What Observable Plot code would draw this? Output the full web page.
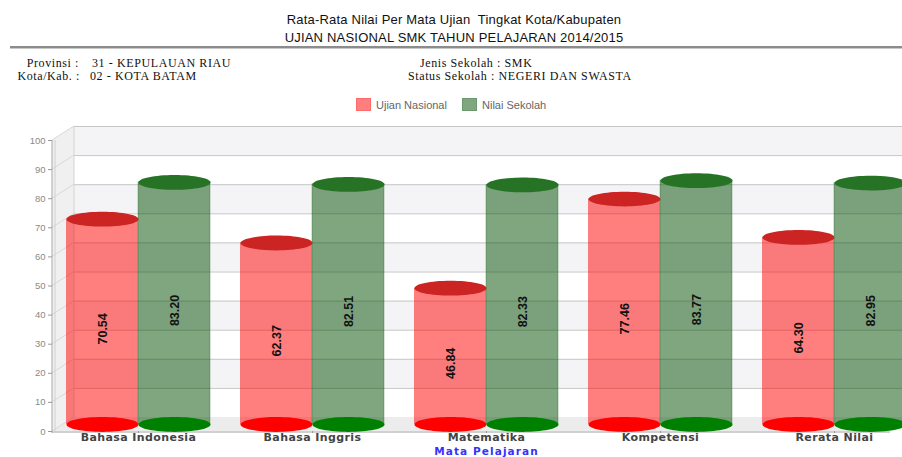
<!DOCTYPE html>
<html><head><meta charset="utf-8">
<script src="https://cdn.jsdelivr.net/npm/d3@7"></script>
<script src="https://cdn.jsdelivr.net/npm/@observablehq/plot@0.6"></script>
<style>
html,body{margin:0;padding:0;background:#fff;width:902px;height:457px;overflow:hidden;}
#wrap{position:relative;width:902px;height:457px;}
#header{position:absolute;left:0;top:0;width:902px;height:118px;}
.t{position:absolute;white-space:nowrap;line-height:1;}
.ttl{left:0;width:908px;text-align:center;font:13px 'Liberation Sans',Arial,sans-serif;color:#111;letter-spacing:0.2px;}
.inf{font:12px 'Liberation Serif','Times New Roman',serif;color:#111;letter-spacing:0.6px;}
.lg{font:11px 'Liberation Sans',Arial,sans-serif;color:#666;}
.sw{position:absolute;width:15px;height:13px;}
#chart{position:absolute;left:0;top:118px;}
#chart g[aria-label="x-axis tick label"] text{letter-spacing:0.4px;}
#chart .axtitle text{letter-spacing:1.1px;}
</style></head><body>
<div id="wrap">
 <div id="header">
  <div class="t ttl" style="top:12px">Rata-Rata Nilai Per Mata Ujian&nbsp; Tingkat Kota/Kabupaten</div>
  <div class="t ttl" style="top:30px">UJIAN NASIONAL SMK TAHUN PELAJARAN 2014/2015</div>
  <div style="position:absolute;left:10px;top:46px;width:892px;height:2px;background:#8c8c8c;"></div>
  <div style="position:absolute;left:10px;top:48px;width:892px;height:1px;background:#c8c8c8;"></div>
  <div class="t inf" style="left:0;width:79px;text-align:right;top:56px">Provinsi :</div>
  <div class="t inf" style="left:92px;top:56px">31 - KEPULAUAN RIAU</div>
  <div class="t inf" style="left:0;width:80px;text-align:right;top:69px">Kota/Kab. :</div>
  <div class="t inf" style="left:90px;top:69px">02 - KOTA BATAM</div>
  <div class="t inf" style="left:420px;top:56px">Jenis Sekolah : SMK</div>
  <div class="t inf" style="left:408px;top:69px">Status Sekolah : NEGERI DAN SWASTA</div>
  <div class="sw" style="left:356px;top:98px;background:#ff7f7f;border:1px solid #ff6a6a;box-sizing:border-box;"></div>
  <div class="t lg" style="left:376px;top:99px">Ujian Nasional</div>
  <div class="sw" style="left:462px;top:98px;background:#7fa67f;border:1px solid #6c996c;box-sizing:border-box;"></div>
  <div class="t lg" style="left:482px;top:99px">Nilai Sekolah</div>
 </div>
 <div id="chart"></div>
</div>
<script>
// ---- data ----
const categories = ["Bahasa Indonesia", "Bahasa Inggris", "Matematika", "Kompetensi", "Rerata Nilai"];
const seriesNames = ["Ujian Nasional", "Nilai Sekolah"];
const ujianNasional = [70.54, 62.37, 46.84, 77.46, 64.30];
const nilaiSekolah = [83.20, 82.51, 82.33, 83.77, 82.95];
const yTicks = [0, 10, 20, 30, 40, 50, 60, 70, 80, 90, 100];
const axisTitle = "Mata Pelajaran";

const un = categories.map((c, i) => ({cat: c, series: seriesNames[0], v: ujianNasional[i]}));
const ns = categories.map((c, i) => ({cat: c, series: seriesNames[1], v: nilaiSekolah[i]}));
const bands = yTicks.slice(0, -1).map((t, i) => ({y1: t, y2: yTicks[i + 1], i})).filter(d => d.i % 2 === 1);

// depth offsets (pixels) for 3D look
const DX = 22, DY = -14;

// custom ellipse symbol for cylinder caps
const ellipse = {
  draw(ctx, size) {
    const rx = Math.sqrt(size / Math.PI), ry = rx * 0.205, k = 0.5523;
    ctx.moveTo(rx, 0);
    ctx.bezierCurveTo(rx, ry * k, rx * k, ry, 0, ry);
    ctx.bezierCurveTo(-rx * k, ry, -rx, ry * k, -rx, 0);
    ctx.bezierCurveTo(-rx, -ry * k, -rx * k, -ry, 0, -ry);
    ctx.bezierCurveTo(rx * k, -ry, rx, -ry * k, rx, 0);
    ctx.closePath();
  }
};

function walls(index, scales, values, dims, context) {
  const y = scales.y;
  const svgNS = "http://www.w3.org/2000/svg";
  const g = d3.select(context.document.createElementNS(svgNS, "g"));
  const x0 = dims.marginLeft, x1 = dims.width - dims.marginRight;
  const yT = y(100), yB = y(0);
  // floor
  g.append("path").attr("d", `M${x0},${yB}L${x1 - 12},${yB}L${x1 + 10},${yB + DY}L${x0 + DX},${yB + DY}Z`).attr("fill", "#ececec");
  // left wall
  g.append("path").attr("d", `M${x0},${yT}L${x0 + DX},${yT + DY}L${x0 + DX},${yB + DY}L${x0},${yB}Z`).attr("fill", "#f0f0f0");
  for (const t of yTicks) {
    g.append("line").attr("x1", x0).attr("y1", y(t)).attr("x2", x0 + DX).attr("y2", y(t) + DY)
      .attr("stroke", "#d8d8d8");
  }
  g.append("line").attr("x1", x0 + DX).attr("y1", yT + DY).attr("x2", x0 + DX).attr("y2", yB + DY).attr("stroke", "#d4d4d4");
  // front edges
  g.append("line").attr("x1", x0).attr("y1", yB + 1).attr("x2", x1 - 12).attr("y2", yB + 1).attr("stroke", "#d0d0d0").attr("stroke-width", 2);
  g.append("line").attr("x1", x0 + 3).attr("y1", yT).attr("x2", x0 + 3).attr("y2", yB).attr("stroke", "#d0d0d0");
  g.append("line").attr("x1", x0).attr("y1", yT).attr("x2", x0).attr("y2", yB + 2).attr("stroke", "#a8a8a8");
  return g.node();
}

const labelFont = "'Liberation Sans', Arial, sans-serif";

const plot = Plot.plot({
  width: 902,
  height: 339,
  marginLeft: 52,
  marginRight: 0,
  marginTop: 22,
  marginBottom: 26,
  style: {fontFamily: "'Liberation Sans', Arial, sans-serif", background: "transparent", overflow: "visible"},
  x: {type: "band", domain: categories, range: [49.75, 922.25], paddingInner: 0.175, paddingOuter: 0.0875},
  y: {domain: [0, 100]},
  marks: [
    // back wall bands
    Plot.rect(bands, {y1: "y1", y2: "y2", dx: DX, dy: DY, fill: "#f4f4f7"}),
    // back wall grid
    Plot.ruleY(yTicks, {dx: DX, dy: DY, stroke: "#c6c6c6", strokeWidth: 1}),
    walls,
    // y axis
    Plot.axisY(yTicks, {tickSize: 4, tickPadding: 3, color: "#8a8a8a", stroke: "#999", fontSize: 9.5, label: null}),
    // cylinder bodies
    Plot.barY(un, {x: "cat", y: "v", dy: -7, insetRight: 72, fill: "#ff0000", fillOpacity: 0.5}),
    Plot.barY(ns, {x: "cat", y: "v", dy: -7, insetLeft: 72, fill: "#004d00", fillOpacity: 0.5, stroke: "#1f6b1f", strokeOpacity: 0.35}),
    // bottom caps
    Plot.dot(un, {x: "cat", y: () => 0, dx: -36, dy: -7, r: 36, symbol: ellipse, fill: "#ff0000", stroke: "none"}),
    Plot.dot(ns, {x: "cat", y: () => 0, dx: 36, dy: -7, r: 36, symbol: ellipse, fill: "#008000", stroke: "none"}),
    // top caps
    Plot.dot(un, {x: "cat", y: "v", dx: -36, dy: -7, r: 36, symbol: ellipse, fill: "#cc2323", stroke: "none"}),
    Plot.dot(ns, {x: "cat", y: "v", dx: 36, dy: -7, r: 36, symbol: ellipse, fill: "#267326", stroke: "none"}),
    // value labels
    Plot.text(un, {x: "cat", y: d => d.v / 2, dx: -36, rotate: -90, text: d => d.v.toFixed(2), fill: "#111",
      fontSize: 12.5, fontWeight: "bold", fontFamily: labelFont}),
    Plot.text(ns, {x: "cat", y: d => d.v / 2, dx: 36, rotate: -90, text: d => d.v.toFixed(2), fill: "#111",
      fontSize: 12.5, fontWeight: "bold", fontFamily: labelFont}),
    // x axis
    Plot.axisX({tickSize: 2, tickPadding: 0, stroke: "#999", fill: "#444", fontSize: 11, fontWeight: "bold",
      fontFamily: "'DejaVu Sans', Verdana, sans-serif", label: null}),
    Plot.text([axisTitle], {x: () => categories[Math.floor(categories.length / 2)], frameAnchor: "bottom",
      lineAnchor: "middle", dy: 20,
      text: d => d, fill: "#3333ff", fontSize: 10.5, fontWeight: "bold", fontFamily: "'DejaVu Sans', Verdana, sans-serif",
      className: "axtitle"})
  ]
});
document.getElementById("chart").appendChild(plot);
</script>
</body></html>
